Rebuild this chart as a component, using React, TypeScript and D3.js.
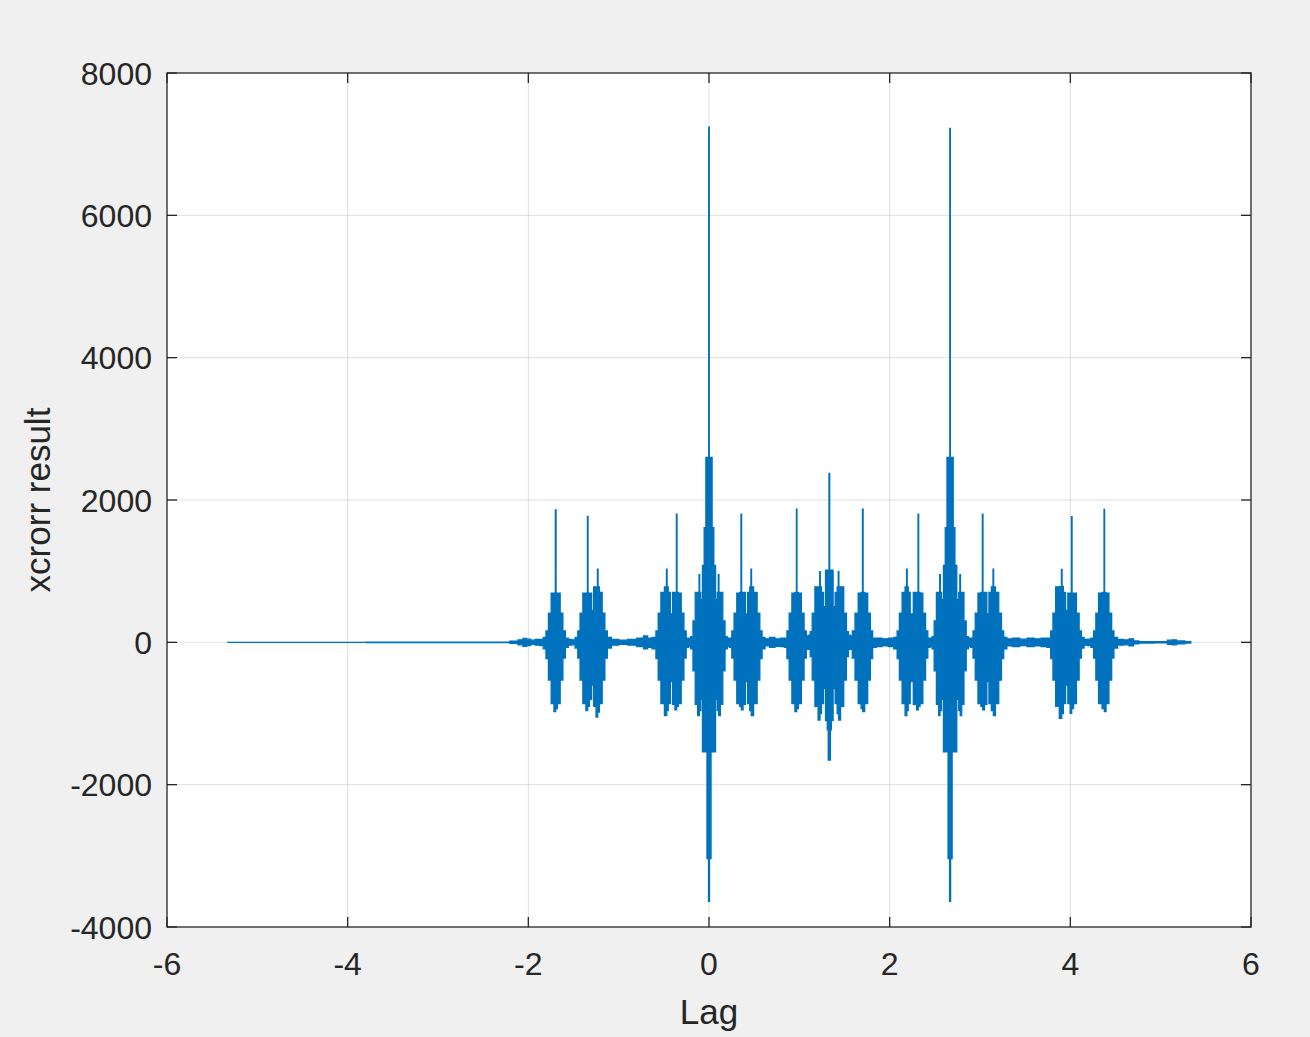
import * as d3 from "d3";

// envelope samples: [lag, upper, lower]
type Env = [number, number, number];

const leadIn: Env[] = [
  [-5.333, 0, 0], [-2.26, 2, -2], [-2.15, 15, -15], [-2.08, 35, -35], [-2.04, 55, -55],
  [-2.0, 45, -45], [-1.95, 30, -30], [-1.9, 40, -40], [-1.85, 40, -45],
];

// bursts around lag -1.7 .. -1.2
const groupA: Env[] = [
  [-1.82, 70, -90], [-1.79, 160, -230], [-1.765, 410, -530], [-1.73, 690, -860],
  [-1.703, 690, -975], [-1.699, 1860, -975], [-1.695, 1860, -930], [-1.691, 690, -930],
  [-1.665, 690, -860], [-1.63, 410, -530], [-1.605, 160, -220], [-1.575, 60, -70],
  [-1.54, 40, -40], [-1.5, 35, -35],
  [-1.465, 70, -80], [-1.44, 160, -220], [-1.415, 410, -530], [-1.378, 690, -860],
  [-1.347, 690, -960], [-1.345, 1770, -960], [-1.341, 1770, -900], [-1.337, 690, -900],
  [-1.31, 690, -800], [-1.288, 450, -600],
  [-1.265, 780, -900], [-1.236, 780, -1050], [-1.234, 1030, -1050], [-1.23, 1030, -980],
  [-1.226, 780, -980], [-1.2, 700, -860], [-1.165, 410, -530], [-1.14, 160, -220],
  [-1.11, 70, -80], [-1.05, 40, -40], [-0.95, 30, -30], [-0.85, 40, -40],
  [-0.75, 60, -60], [-0.7, 90, -90], [-0.66, 60, -70],
];

// bursts around the first main peak (lag 0)
const groupB: Env[] = [
  [-0.6, 70, -90], [-0.575, 160, -230], [-0.55, 410, -530], [-0.515, 700, -860],
  [-0.472, 780, -1030], [-0.47, 1030, -1030], [-0.466, 1030, -960], [-0.462, 780, -960],
  [-0.44, 700, -860], [-0.415, 400, -550],
  [-0.392, 700, -870], [-0.362, 700, -950], [-0.36, 1800, -950], [-0.356, 1800, -900],
  [-0.352, 700, -900], [-0.325, 690, -860], [-0.29, 410, -530], [-0.265, 160, -220],
  [-0.24, 60, -70], [-0.215, 60, -60],
  [-0.19, 80, -90], [-0.165, 300, -400], [-0.14, 700, -870], [-0.111, 700, -1030],
  [-0.109, 950, -1030], [-0.105, 950, -960], [-0.101, 700, -960], [-0.082, 600, -800],
  [-0.063, 1080, -1540], [-0.055, 1080, -1540], [-0.052, 1610, -1540], [-0.036, 1610, -1540],
  [-0.033, 2600, -1540], [-0.024, 2600, -1540], [-0.021, 2600, -3040], [-0.017, 2600, -3040],
  [-0.013, 2600, -1900], [-0.007, 2600, -1900], [-0.004, 2600, -3640], [-0.002, 7240, -3640],
  [0.002, 7240, -3640], [0.004, 2600, -3640], [0.007, 2600, -1900], [0.013, 2600, -1900],
  [0.017, 2600, -3040], [0.021, 2600, -3040], [0.024, 2600, -1540], [0.033, 2600, -1540],
  [0.036, 1610, -1540], [0.052, 1610, -1540], [0.055, 1080, -1540], [0.063, 1080, -1540],
  [0.082, 600, -800],
  [0.101, 700, -960], [0.105, 950, -960], [0.109, 950, -1030], [0.111, 700, -1030],
  [0.14, 700, -870], [0.165, 300, -400], [0.19, 80, -90], [0.215, 60, -60],
  [0.24, 60, -70], [0.265, 160, -220], [0.29, 410, -530], [0.325, 690, -860],
  [0.352, 700, -900], [0.356, 1800, -900], [0.36, 1800, -950], [0.362, 700, -950],
  [0.392, 700, -870], [0.415, 400, -550],
  [0.44, 700, -860], [0.462, 780, -960], [0.466, 1030, -960], [0.47, 1030, -1030],
  [0.472, 780, -1030], [0.515, 700, -860], [0.55, 410, -530], [0.575, 160, -230],
  [0.6, 70, -90], [0.64, 50, -50], [0.7, 70, -70], [0.76, 50, -55], [0.82, 60, -60],
];

// bursts around lag 1.0 .. 1.7
const groupC: Env[] = [
  [0.85, 60, -70], [0.875, 160, -230], [0.9, 410, -530], [0.935, 690, -860],
  [0.967, 700, -975], [0.969, 1873, -975], [0.973, 1873, -930], [0.975, 700, -930],
  [1.005, 690, -860], [1.04, 410, -530], [1.065, 160, -220], [1.09, 90, -100],
  [1.11, 100, -100],
  [1.13, 150, -200], [1.155, 410, -530], [1.19, 780, -900], [1.225, 780, -1092],
  [1.227, 992, -1092], [1.231, 992, -1000], [1.235, 780, -1000], [1.255, 700, -860],
  [1.28, 500, -650],
  [1.3, 1016, -1100], [1.318, 1016, -1230], [1.322, 1016, -1654], [1.325, 1016, -1654],
  [1.327, 1016, -1230], [1.329, 2374, -1230], [1.335, 2374, -1230], [1.337, 1016, -1230],
  [1.339, 1016, -1654], [1.342, 1016, -1654], [1.346, 1016, -1230], [1.364, 1016, -1100],
  [1.384, 500, -650],
  [1.409, 700, -860], [1.429, 780, -1000], [1.433, 992, -1000], [1.437, 992, -1092],
  [1.439, 780, -1092], [1.474, 780, -900], [1.509, 410, -530], [1.534, 150, -200],
  [1.553, 100, -100],
  [1.574, 90, -100], [1.599, 160, -220], [1.634, 410, -530], [1.669, 690, -860],
  [1.698, 700, -930], [1.7, 1873, -930], [1.704, 1873, -975], [1.708, 700, -975],
  [1.739, 690, -860], [1.774, 410, -530], [1.799, 160, -230], [1.824, 60, -70],
  [1.88, 60, -60], [1.95, 50, -50], [2.02, 60, -60],
];

// bursts around the second main peak (lag 2.67)
const groupD: Env[] = [
  [2.07, 70, -90], [2.095, 160, -230], [2.12, 410, -530], [2.155, 700, -860],
  [2.186, 780, -1030], [2.188, 1030, -1030], [2.192, 1030, -960], [2.196, 780, -960],
  [2.215, 700, -860], [2.24, 400, -550],
  [2.283, 700, -870], [2.313, 700, -950], [2.315, 1800, -950], [2.319, 1800, -900],
  [2.323, 700, -900], [2.35, 690, -860], [2.385, 410, -530], [2.41, 160, -220],
  [2.435, 60, -70], [2.46, 60, -60],
  [2.48, 80, -90], [2.505, 300, -400], [2.53, 700, -870], [2.553, 700, -1030],
  [2.555, 950, -1030], [2.559, 950, -960], [2.563, 700, -960], [2.585, 600, -800],
  [2.606, 1080, -1540], [2.614, 1080, -1540], [2.617, 1610, -1540], [2.633, 1610, -1540],
  [2.636, 2600, -1540], [2.645, 2600, -1540], [2.648, 2600, -3040], [2.652, 2600, -3040],
  [2.656, 2600, -1900], [2.662, 2600, -1900], [2.665, 2600, -3640], [2.667, 7220, -3640],
  [2.671, 7220, -3640], [2.673, 2600, -3640], [2.676, 2600, -1900], [2.682, 2600, -1900],
  [2.686, 2600, -3040], [2.69, 2600, -3040], [2.693, 2600, -1540], [2.702, 2600, -1540],
  [2.705, 1610, -1540], [2.721, 1610, -1540], [2.724, 1080, -1540], [2.732, 1080, -1540],
  [2.754, 600, -800],
  [2.775, 700, -960], [2.779, 950, -960], [2.783, 950, -1030], [2.785, 700, -1030],
  [2.81, 700, -870], [2.835, 300, -400], [2.86, 80, -90], [2.885, 60, -60],
  [2.91, 60, -70], [2.935, 160, -220], [2.96, 410, -530], [2.995, 690, -860],
  [3.024, 700, -900], [3.028, 1800, -900], [3.032, 1800, -950], [3.034, 700, -950],
  [3.064, 700, -870], [3.088, 400, -550],
  [3.11, 700, -860], [3.142, 780, -960], [3.146, 1030, -960], [3.15, 1030, -1030],
  [3.152, 780, -1030], [3.19, 700, -860], [3.225, 410, -530], [3.25, 160, -230],
  [3.275, 70, -90], [3.32, 50, -50], [3.4, 60, -60], [3.48, 45, -45], [3.56, 60, -60],
  [3.64, 50, -50], [3.71, 60, -60],
];

// bursts around lag 3.9 .. 4.4 and the tail
const groupE: Env[] = [
  [3.77, 60, -70], [3.795, 160, -230], [3.82, 410, -530], [3.855, 780, -900],
  [3.9, 781, -1068], [3.903, 1026, -1068], [3.907, 1026, -1000], [3.91, 781, -1000],
  [3.935, 700, -860], [3.96, 450, -600],
  [3.985, 690, -860], [4.011, 690, -998], [4.013, 1765, -998], [4.017, 1765, -930],
  [4.021, 690, -930], [4.05, 690, -860], [4.085, 410, -530], [4.11, 160, -220],
  [4.135, 70, -80], [4.17, 40, -40], [4.21, 45, -45], [4.245, 60, -70],
  [4.27, 160, -220], [4.295, 410, -530], [4.33, 690, -860], [4.372, 700, -930],
  [4.374, 1869, -930], [4.378, 1869, -975], [4.38, 700, -975], [4.41, 690, -860],
  [4.445, 410, -530], [4.47, 160, -220], [4.495, 70, -80],
  [4.55, 40, -40], [4.62, 35, -35], [4.68, 50, -50], [4.72, 20, -20], [4.8, 10, -10],
  [5.05, 8, -8], [5.1, 30, -30], [5.15, 35, -35], [5.2, 20, -20], [5.333, 10, -10],
];

const xTicks = [-6, -4, -2, 0, 2, 4, 6];
const yTicks = [-4000, -2000, 0, 2000, 4000, 6000, 8000];

const W = 1310;
const H = 1037;
const left = 167, right = 1251, top = 73, bottom = 927;
const axisColor = "#262626";
const lineColor = "#0072BD";
const font = "'Liberation Sans', Arial, Helvetica, sans-serif";

export default function App() {
  const x = d3.scaleLinear().domain([-6, 6]).range([left, right]);
  const y = d3.scaleLinear().domain([-4000, 8000]).range([bottom, top]);

  const data = [...leadIn, ...groupA, ...groupB, ...groupC, ...groupD, ...groupE];

  // stepped envelope looks closer to the dense MATLAB trace than a smooth one
  const area = d3
    .area<Env>()
    .curve(d3.curveStep)
    .x((d) => x(d[0]))
    .y0((d) => y(d[2]))
    .y1((d) => y(d[1]));

  const tick = 10;

  return (
    <svg
      width={W}
      height={H}
      style={{ position: "absolute", left: 0, top: 0, background: "#f0f0f0" }}
      fontFamily={font}
    >
      <rect x={0} y={0} width={W} height={H} fill="#f0f0f0" />
      <rect x={left} y={top} width={right - left} height={bottom - top} fill="#fff" />

      {/* grid */}
      <g stroke={axisColor} strokeOpacity={0.15} strokeWidth={1}>
        {xTicks.slice(1, -1).map((t) => (
          <line key={"gx" + t} x1={x(t)} x2={x(t)} y1={top} y2={bottom} />
        ))}
        {yTicks.slice(1, -1).map((t) => (
          <line key={"gy" + t} x1={left} x2={right} y1={y(t)} y2={y(t)} />
        ))}
      </g>

      {/* signal */}
      <path d={area(data) ?? ""} fill={lineColor} stroke={lineColor} strokeWidth={1.3} strokeLinejoin="miter" />

      {/* box + ticks */}
      <g stroke={axisColor} strokeWidth={1.3} fill="none">
        <rect x={left} y={top} width={right - left} height={bottom - top} />
        {xTicks.map((t) => (
          <g key={"tx" + t}>
            <line x1={x(t)} x2={x(t)} y1={bottom} y2={bottom - tick} />
            <line x1={x(t)} x2={x(t)} y1={top} y2={top + tick} />
          </g>
        ))}
        {yTicks.map((t) => (
          <g key={"ty" + t}>
            <line x1={left} x2={left + tick} y1={y(t)} y2={y(t)} />
            <line x1={right} x2={right - tick} y1={y(t)} y2={y(t)} />
          </g>
        ))}
      </g>

      {/* tick labels */}
      <g fill={axisColor} fontSize={32}>
        {xTicks.map((t) => (
          <text key={"lx" + t} x={x(t)} y={bottom + 48} textAnchor="middle">
            {String(t)}
          </text>
        ))}
        {yTicks.map((t) => (
          <text key={"ly" + t} x={left - 15} y={y(t) + 11.5} textAnchor="end">
            {String(t)}
          </text>
        ))}
      </g>

      {/* axis labels */}
      <text x={(left + right) / 2} y={1024} textAnchor="middle" fontSize={35} fill={axisColor}>
        Lag
      </text>
      <text
        transform={`translate(50,${(top + bottom) / 2}) rotate(-90)`}
        textAnchor="middle"
        fontSize={35}
        fill={axisColor}
      >
        xcrorr result
      </text>
    </svg>
  );
}
